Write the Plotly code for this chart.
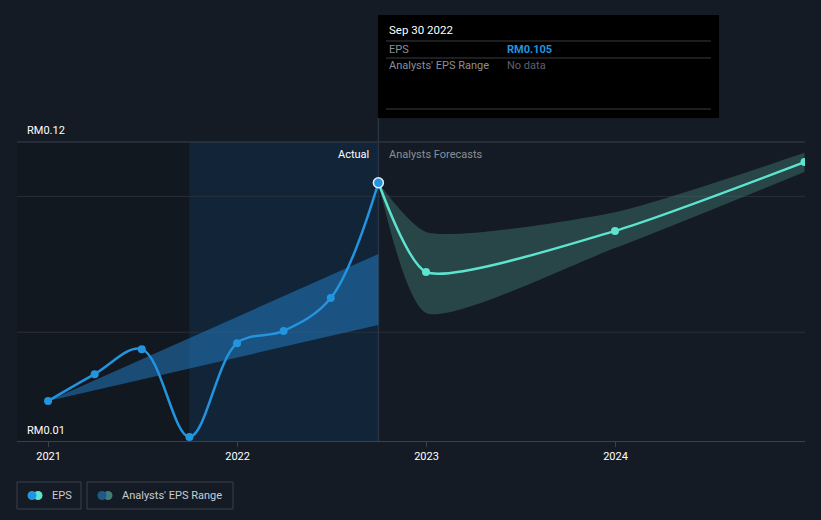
import plotly.graph_objects as go

# ---- data ----
actual_dates = ["2020-12-31", "2021-03-31", "2021-06-30", "2021-09-30",
                "2021-12-31", "2022-03-31", "2022-06-30", "2022-09-30"]
actual_eps = [0.0247, 0.0346, 0.0438, 0.0115, 0.0460, 0.0505, 0.0626, 0.105]

past_range_dates = ["2020-12-31", "2022-09-30"]
past_range_high = [0.0247, 0.0788]
past_range_low = [0.0247, 0.0527]

forecast_dates = ["2022-09-30", "2022-12-31", "2023-12-31", "2024-12-31"]
forecast_eps = [0.105, 0.0722, 0.0873, 0.1126]
forecast_high = [0.105, 0.0869, 0.0942, 0.116]
forecast_low = [0.105, 0.0571, 0.081, 0.109]

year_ticks = ["2021-01-01", "2022-01-01", "2023-01-01", "2024-01-01"]
year_labels = ["2021", "2022", "2023", "2024"]

# ---- layout geometry ----
W, H = 821, 520
L, R, T, B = 17, 16, 142, 79
PW, PH = W - L - R, H - T - B

def px(x):
    return (x - L) / PW

def py(y):
    return (H - B - y) / PH

BG = "#151b25"
BLUE = "#2394df"
TEAL = "#5de3cf"
FONT = "Roboto, Open Sans, sans-serif"

fig = go.Figure()

# past analyst range band
fig.add_trace(go.Scatter(x=past_range_dates, y=past_range_low, mode="lines",
                         line=dict(width=0), hoverinfo="skip", showlegend=False))
fig.add_trace(go.Scatter(x=past_range_dates, y=past_range_high, mode="lines",
                         line=dict(width=0), fill="tonexty",
                         fillcolor="rgba(35,120,190,0.55)",
                         hoverinfo="skip", showlegend=False))

# forecast range band
fig.add_trace(go.Scatter(x=forecast_dates, y=forecast_low, mode="lines",
                         line=dict(width=0, shape="spline", smoothing=0.6),
                         hoverinfo="skip", showlegend=False))
fig.add_trace(go.Scatter(x=forecast_dates, y=forecast_high, mode="lines",
                         line=dict(width=0, shape="spline", smoothing=0.6),
                         fill="tonexty", fillcolor="rgba(70,140,130,0.38)",
                         hoverinfo="skip", showlegend=False))

# actual EPS
fig.add_trace(go.Scatter(x=actual_dates, y=actual_eps, mode="lines+markers",
                         line=dict(color=BLUE, width=2.5, shape="spline", smoothing=1.0),
                         marker=dict(color=BLUE, size=8),
                         hoverinfo="skip", showlegend=False))

# forecast EPS
fig.add_trace(go.Scatter(x=forecast_dates, y=forecast_eps, mode="lines+markers",
                         line=dict(color=TEAL, width=2.5, shape="spline", smoothing=0.6),
                         marker=dict(color=TEAL, size=8),
                         hoverinfo="skip", showlegend=False))

# highlighted last point
fig.add_trace(go.Scatter(x=[actual_dates[-1]], y=[actual_eps[-1]], mode="markers",
                         marker=dict(color=BLUE, size=10, line=dict(color="#dfefff", width=1.5)),
                         hoverinfo="skip", showlegend=False))

GRID = "#2a303a"
shapes = [
    # dark region before the last year
    dict(type="rect", xref="x", yref="paper", x0="2020-11-01", x1="2021-09-30",
         y0=0, y1=1, fillcolor="#121820", line=dict(width=0), layer="below"),
    # highlighted past-year region
    dict(type="rect", xref="x", yref="paper", x0="2021-09-30", x1="2022-09-30",
         y0=0, y1=1, fillcolor="#112438", line=dict(width=0), layer="below"),
    # grid lines drawn over the regions
    dict(type="line", xref="paper", yref="y", x0=0, x1=1, y0=0.05, y1=0.05,
         line=dict(color=GRID, width=1), layer="below"),
    dict(type="line", xref="paper", yref="y", x0=0, x1=1, y0=0.1, y1=0.1,
         line=dict(color=GRID, width=1), layer="below"),
    dict(type="line", xref="paper", yref="paper", x0=0, x1=1, y0=1, y1=1,
         line=dict(color="#3a404a", width=1), layer="below"),
    # hover vertical line
    dict(type="line", xref="x", yref="paper", x0="2022-09-30", x1="2022-09-30",
         y0=0, y1=py(118), line=dict(color="#263445", width=1.5), layer="below"),
    # tooltip box
    dict(type="rect", xref="paper", yref="paper", x0=px(378), x1=px(719),
         y0=py(118), y1=py(15), fillcolor="#000000", line=dict(width=0)),
    dict(type="line", xref="paper", yref="paper", x0=px(386), x1=px(711),
         y0=py(41), y1=py(41), line=dict(color="#3a3d42", width=1)),
    dict(type="line", xref="paper", yref="paper", x0=px(386), x1=px(711),
         y0=py(58), y1=py(58), line=dict(color="#3a3d42", width=1)),
    dict(type="line", xref="paper", yref="paper", x0=px(386), x1=px(711),
         y0=py(109), y1=py(109), line=dict(color="#3a3d42", width=1)),
    # legend boxes
    dict(type="rect", xref="paper", yref="paper", x0=px(17), x1=px(81),
         y0=py(509), y1=py(482), fillcolor="rgba(0,0,0,0)",
         line=dict(color="#3b4049", width=1)),
    dict(type="rect", xref="paper", yref="paper", x0=px(87), x1=px(233),
         y0=py(509), y1=py(482), fillcolor="rgba(0,0,0,0)",
         line=dict(color="#3b4049", width=1)),
]

# legend icons (two overlapping circles)
def icon(cx, cy, c1, c2):
    r = 4.5
    out = []
    out.append(dict(type="circle", xref="paper", yref="paper",
                    x0=px(cx + 6 - r), x1=px(cx + 6 + r), y0=py(cy + r), y1=py(cy - r),
                    fillcolor=c2, line=dict(width=0)))
    out.append(dict(type="circle", xref="paper", yref="paper",
                    x0=px(cx - r), x1=px(cx + r), y0=py(cy + r), y1=py(cy - r),
                    fillcolor=c1, line=dict(width=0)))
    return out

shapes += icon(32, 495.5, BLUE, TEAL)
shapes += icon(102, 495.5, "#1d5a8a", "#3f7d76")

def txt(text, x, y, color, anchor="left", size=11):
    return dict(text=text, x=px(x), y=py(y), xref="paper", yref="paper",
                xanchor=anchor, yanchor="middle", showarrow=False,
                font=dict(color=color, size=size, family=FONT))

annotations = [
    txt("RM0.12", 25, 130, "#ffffff"),
    txt("RM0.01", 25, 430, "#ffffff"),
    txt("Actual", 371, 154, "#ffffff", anchor="right"),
    txt("Analysts Forecasts", 387, 154, "#8a8f97"),
    # tooltip
    txt("Sep 30 2022", 387, 30, "#ffffff", size=11.5),
    txt("EPS", 387, 49, "#8a8f97"),
    txt("<b>RM0.105</b>", 505, 49, BLUE),
    txt("Analysts' EPS Range", 387, 66, "#8a8f97"),
    txt("No data", 505, 66, "#5e6269"),
    # legend text
    txt("EPS", 50, 495.5, "#c9ccd1"),
    txt("Analysts' EPS Range", 120, 495.5, "#c9ccd1"),
]

fig.update_layout(
    width=W, height=H,
    margin=dict(l=L, r=R, t=T, b=B),
    paper_bgcolor=BG, plot_bgcolor=BG,
    showlegend=False,
    shapes=shapes, annotations=annotations,
    font=dict(family=FONT, color="#ffffff", size=11),
    xaxis=dict(range=["2020-11-01", "2025-01-01"], type="date",
               tickvals=year_ticks, ticktext=year_labels,
               showgrid=False, zeroline=False,
               showline=True, linecolor="#3b4049", linewidth=1,
               ticks="outside", ticklen=5, tickcolor="#3b4049",
               tickfont=dict(color="#ffffff", size=11, family=FONT),
               fixedrange=True),
    yaxis=dict(range=[0.01, 0.12], showticklabels=False, showgrid=False,
               zeroline=False, showline=False, fixedrange=True),
)

fig.write_html("out.html")
